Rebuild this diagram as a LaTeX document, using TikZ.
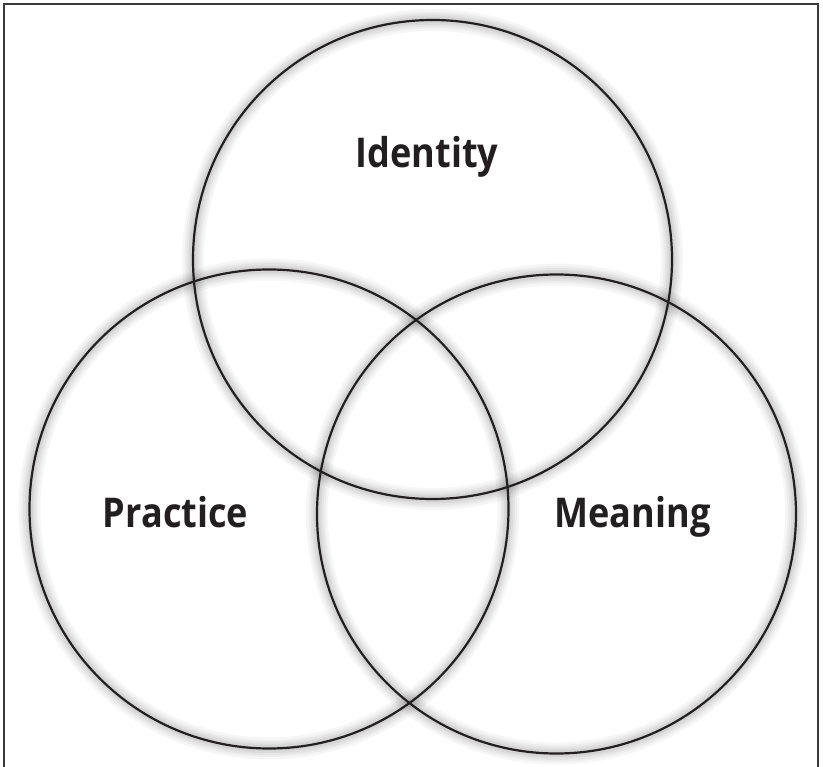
\documentclass[tikz,border=0pt]{standalone}
\usepackage{fontspec}
\setmainfont{Open Sans}
\definecolor{ink}{HTML}{231F20}
\definecolor{framec}{HTML}{3A3A3A}
\newcommand{\lbltext}[1]{\scalebox{0.88}[1]{#1}}
\tikzset{
  ring/.style={draw=ink, line width=2.2pt},
  halo/.style={draw=black, opacity=0.035},
  lbl/.style={font=\fontsize{41}{41}\selectfont\bfseries, text=ink, anchor=base, inner sep=0pt},
}
\begin{document}
\begin{tikzpicture}[x=1pt,y=-1pt]
\useasboundingbox (0,0) rectangle (823,767);
\fill[white] (0,0) rectangle (823,767);
\begin{scope}
\clip (0,0) rectangle (823,767);
\draw[framec, line width=2pt] (4,4) rectangle (817.5,790);
\end{scope}
\coordinate (cI) at (432.5,259.5);
\coordinate (cP) at (269,509);
\coordinate (cM) at (556.5,514);
\foreach \c in {cI,cP,cM}{
  \foreach \w in {22,17,13,9,6}{
    \draw[halo, line width=\w pt] (\c) circle[radius=239.5];
  }
}
\draw[ring] (cI) circle[radius=239.5];
\draw[ring] (cP) circle[radius=239.5];
\draw[ring] (cM) circle[radius=239.5];
\node[lbl] (tI) at (427,168) {\lbltext{Identity}};
\node[lbl] (tP) at (175.5,528) {\lbltext{Practice}};
\node[lbl] (tM) at (632.5,528) {\lbltext{Meaning}};
\end{tikzpicture}
\end{document}
